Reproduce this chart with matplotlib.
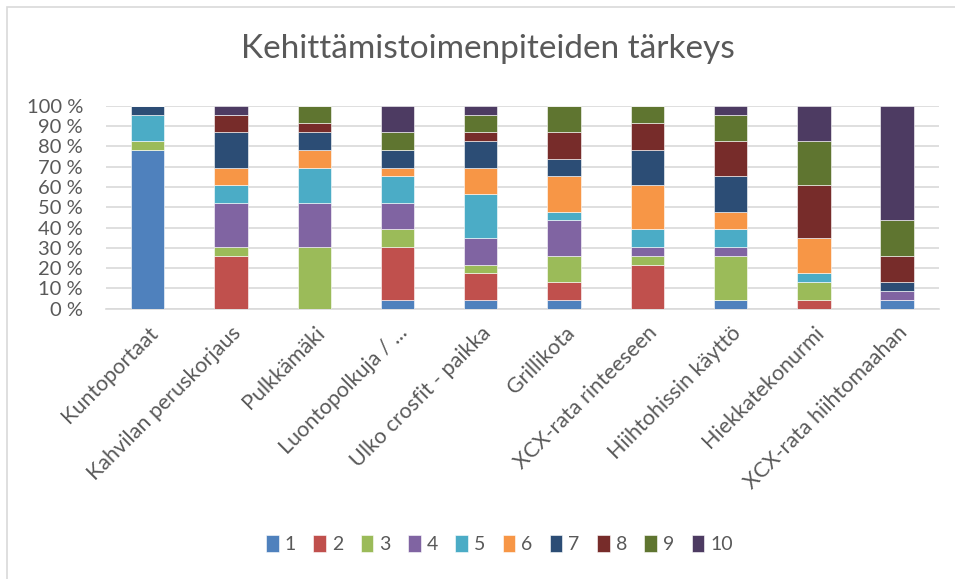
import numpy as np
import matplotlib.pyplot as plt
from matplotlib.patches import Rectangle

# answer counts per importance score (1..10), 23 answers per item
categories = ["Kuntoportaat", "Kahvilan peruskorjaus", "Pulkkämäki",
              "Luontopolkuja / ...", "Ulko crosfit - paikka", "Grillikota",
              "XCX-rata rinteeseen", "Hiihtohissin käyttö",
              "Hiekkatekonurmi", "XCX-rata hiihtomaahan"]
series_names = ["1", "2", "3", "4", "5", "6", "7", "8", "9", "10"]

s1 = [18, 0, 0, 1, 1, 1, 0, 1, 0, 1]
s2 = [0, 6, 0, 6, 3, 2, 5, 0, 1, 0]
s3 = [1, 1, 7, 2, 1, 3, 1, 5, 2, 0]
s4 = [0, 5, 5, 3, 3, 4, 1, 1, 0, 1]
s5 = [3, 2, 4, 3, 5, 1, 2, 2, 1, 0]
s6 = [0, 2, 2, 1, 3, 4, 5, 2, 4, 0]
s7 = [1, 4, 2, 2, 3, 2, 4, 4, 0, 1]
s8 = [0, 2, 1, 0, 1, 3, 3, 4, 6, 3]
s9 = [0, 0, 2, 2, 2, 3, 2, 3, 5, 4]
s10 = [0, 1, 0, 3, 1, 0, 0, 1, 4, 13]

colors = ["#4F81BD", "#C0504D", "#9BBB59", "#8064A2", "#4BACC6",
          "#F79646", "#2C4D75", "#772C2A", "#5F7530", "#4D3B62"]

counts = np.array([s1, s2, s3, s4, s5, s6, s7, s8, s9, s10], dtype=float)
pct = counts / counts.sum(axis=0) * 100

plt.rcParams['font.family'] = ['Lato', 'DejaVu Sans']
txt = "#595959"

fig = plt.figure(figsize=(9.55, 5.79), dpi=100)
ax = fig.add_axes([0.111, 0.4668, 0.872, 0.3506])

x = np.arange(len(categories))
bottom = np.zeros(len(categories))
for i in range(len(series_names)):
    ax.bar(x, pct[i], 0.4, bottom=bottom, color=colors[i],
           edgecolor="white", linewidth=0.4, label=series_names[i], zorder=3)
    bottom += pct[i]

ax.set_xlim(-0.5, len(categories) - 0.5)
ax.set_ylim(0, 100)
ax.set_yticks(np.arange(0, 101, 10))
ax.set_yticklabels([f"{v} %" for v in range(0, 101, 10)])
ax.yaxis.grid(True, color="#D9D9D9", linewidth=1.2, zorder=0)
ax.set_xticks(x)
ax.set_xticklabels(categories, rotation=45, ha="right", rotation_mode="anchor")
ax.tick_params(axis="y", length=0, pad=16.5, labelsize=14.5, labelcolor=txt)
ax.tick_params(axis="x", length=0, pad=10, labelsize=15.5, labelcolor=txt)
for s in ["top", "right", "left"]:
    ax.spines[s].set_visible(False)
ax.spines["bottom"].set_color("#D9D9D9")
ax.spines["bottom"].set_linewidth(1.2)

fig.text(0.511, 0.915, "Kehittämistoimenpiteiden tärkeys", ha="center",
         va="center", fontsize=24, color=txt)

leg = fig.legend(loc="center", bbox_to_anchor=(0.523, 0.06), ncol=10,
                 frameon=False, fontsize=14, handlelength=0.65,
                 handleheight=0.9, handletextpad=0.3, columnspacing=0.9)
for t in leg.get_texts():
    t.set_color(txt)

# chart area border
fig.patches.append(Rectangle((7 / 955, -0.1), 1.2, 1.1 - 7 / 579,
                             transform=fig.transFigure, fill=False,
                             edgecolor="#D9D9D9", linewidth=1.2))

fig.savefig("out.png", dpi=100)
